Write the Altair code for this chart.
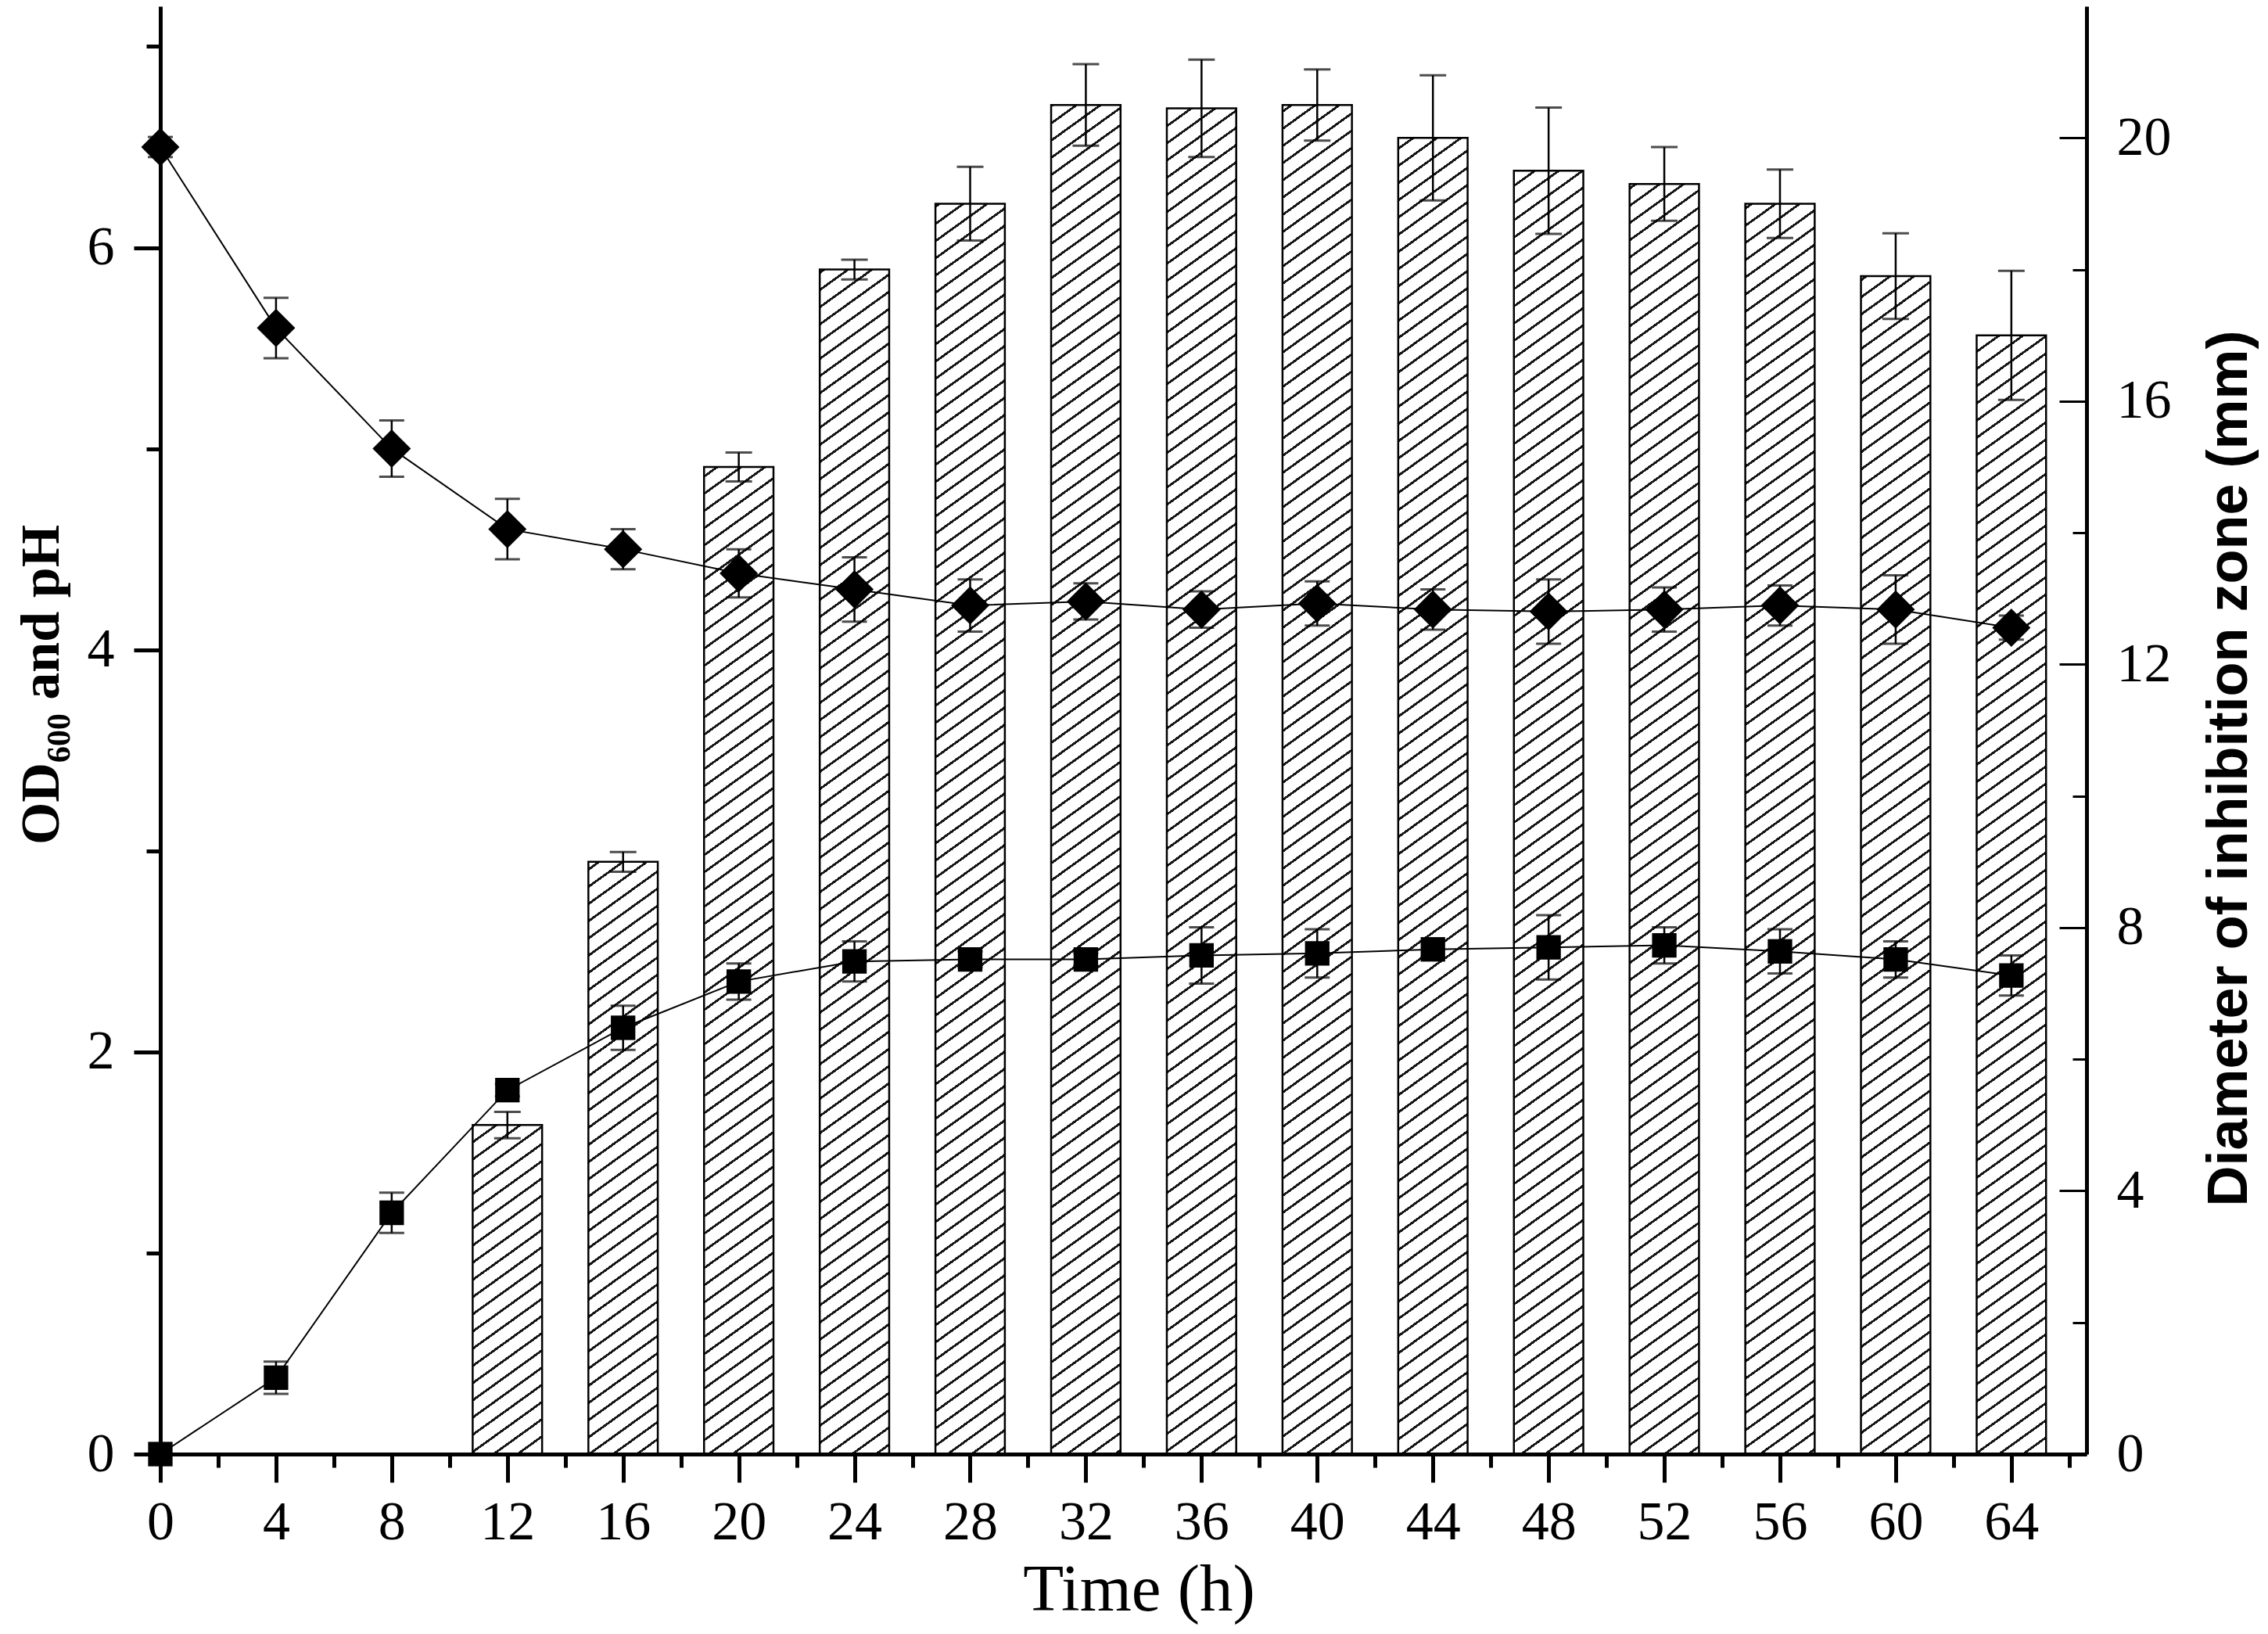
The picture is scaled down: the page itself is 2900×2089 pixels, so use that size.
import altair as alt
import pandas as pd

# ---------------- data ----------------
time_h = [0, 4, 8, 12, 16, 20, 24, 28, 32, 36, 40, 44, 48, 52, 56, 60, 64]
ph = [6.50, 5.60, 5.00, 4.60, 4.50, 4.38, 4.30, 4.22, 4.24, 4.20, 4.23, 4.20, 4.19, 4.20, 4.22, 4.20, 4.11]
ph_err = [0.05, 0.15, 0.14, 0.15, 0.10, 0.12, 0.16, 0.13, 0.09, 0.09, 0.11, 0.10, 0.16, 0.11, 0.10, 0.17, 0.06]
od = [0.00, 0.38, 1.20, 1.81, 2.12, 2.35, 2.45, 2.46, 2.46, 2.48, 2.49, 2.51, 2.52, 2.53, 2.50, 2.46, 2.38]
od_err = [0.00, 0.08, 0.10, 0.03, 0.11, 0.09, 0.10, 0.04, 0.03, 0.14, 0.12, 0.04, 0.16, 0.09, 0.11, 0.09, 0.10]

bar_time = [12, 16, 20, 24, 28, 32, 36, 40, 44, 48, 52, 56, 60, 64]
zone = [5.0, 9.0, 15.0, 18.0, 19.0, 20.5, 20.45, 20.5, 20.0, 19.5, 19.3, 19.0, 17.9, 17.0]
zone_err = [0.20, 0.15, 0.22, 0.15, 0.56, 0.62, 0.74, 0.54, 0.95, 0.96, 0.56, 0.52, 0.65, 0.98]

x_major = list(range(0, 65, 4))
x_minor = list(range(2, 67, 4))
yl_major = [0, 2, 4, 6]
yl_minor = [1, 3, 5, 7]
yr_major = [0, 4, 8, 12, 16, 20]
yr_minor = [2, 6, 10, 14, 18]

x_title = "Time (h)"
yl_title = "OD\u2086\u2080\u2080 and pH"
yr_title = "Diameter of inhibition zone (mm)"

# ---------------- layout / style ----------------
W, H = 2463, 1851
X_DOM = [0, 66.6]
YL_DOM = [0, 7.2]
YR_DOM = [0, 22]
BAR_HALF = 1.2
SERIF = "Liberation Serif"
SANS = "Liberation Sans"

line_df = pd.DataFrame({"t": time_h, "ph": ph, "ph_err": ph_err, "od": od, "od_err": od_err})
bar_df = pd.DataFrame({"t": bar_time, "z": zone, "z_err": zone_err})

xs = alt.Scale(domain=X_DOM, nice=False, zero=False)
yls = alt.Scale(domain=YL_DOM, nice=False)
yrs = alt.Scale(domain=YR_DOM, nice=False)

AX = dict(domainColor="black", tickColor="black", labelColor="black", titleColor="black",
          grid=False, labelFlush=False, labelOverlap=False, zindex=1)


def hatch(x_left, top, w, h, slope=0.72, period=22.0, thick=3.6, ink="#151515"):
    U = slope * w + h
    den = (slope * w) ** 2 + h ** 2
    x2 = slope * w * U / den
    y2 = h * U / den
    base = slope * x_left + top
    u = ((-base) % period) - period
    stops = [{"offset": 0, "color": "white"}]
    while u < U:
        a, b = max(u, 0.0), min(u + thick, U)
        if b > a:
            oa, ob = round(a / U, 6), round(b / U, 6)
            stops += [{"offset": oa, "color": "white"}, {"offset": oa, "color": ink},
                      {"offset": ob, "color": ink}, {"offset": ob, "color": "white"}]
        u += period
    stops.append({"offset": 1, "color": "white"})
    return {"gradient": "linear", "x1": 0, "y1": 0, "x2": x2, "y2": y2, "stops": stops}


layers = []

# ---- hatched bars (right axis) ----
base_bar = alt.Chart(bar_df).transform_calculate(
    x0=alt.datum.t - BAR_HALF, x1=alt.datum.t + BAR_HALF, zero="0",
    lo=alt.datum.z - alt.datum.z_err, hi=alt.datum.z + alt.datum.z_err)

px_per_h = W / (X_DOM[1] - X_DOM[0])
for i, (t, z) in enumerate(zip(bar_time, zone)):
    w = 2 * BAR_HALF * px_per_h
    h = z * H / YR_DOM[1]
    grad = hatch((t - BAR_HALF) * px_per_h, H - h, w, h)
    if i == 0:
        yaxis = alt.Axis(orient="right", values=yr_major, ticks=False, domainWidth=5,
                         labelPadding=38, labelFont=SERIF, labelFontSize=70,
                         title=yr_title, titleFont=SANS, titleFontWeight="bold", titleFontSize=72,
                         titleAngle=270, titleX=182, titleY=974, titleAlign="center",
                         titleBaseline="middle", **AX)
    else:
        yaxis = None
    layers.append(
        base_bar.transform_filter(alt.datum.t == t).mark_bar(
            fill=grad, stroke="black", strokeWidth=2.5
        ).encode(
            x=alt.X("x0:Q", scale=xs, axis=None), x2="x1:Q",
            y=alt.Y("z:Q", scale=yrs, axis=yaxis), y2="zero:Q")
    )

# bar error bars
layers.append(base_bar.mark_rule(color="black", strokeWidth=2.5).encode(
    x=alt.X("t:Q", scale=xs, axis=None),
    y=alt.Y("lo:Q", scale=yrs, axis=None), y2="hi:Q"))
for f in ["lo", "hi"]:
    layers.append(base_bar.mark_tick(orient="horizontal", size=34, thickness=3, color="black").encode(
        x=alt.X("t:Q", scale=xs, axis=None), y=alt.Y(f + ":Q", scale=yrs, axis=None)))

# ---- right axis inward ticks ----
layers.append(alt.Chart(bar_df).mark_point(opacity=0).encode(
    x=alt.X("t:Q", scale=xs, axis=None),
    y=alt.Y("z:Q", scale=yrs, axis=alt.Axis(orient="right", values=yr_major, offset=-35, tickSize=35,
                                            tickWidth=3, domain=False, labels=False, title=None, **AX))))
layers.append(alt.Chart(bar_df).mark_point(opacity=0).encode(
    x=alt.X("t:Q", scale=xs, axis=None),
    y=alt.Y("z:Q", scale=yrs, axis=alt.Axis(orient="right", values=yr_minor, offset=-18, tickSize=18,
                                            tickWidth=3, domain=False, labels=False, title=None, **AX))))

# ---- lines with error bars (left axis) ----
base_line = alt.Chart(line_df).transform_calculate(
    ph_lo=alt.datum.ph - alt.datum.ph_err, ph_hi=alt.datum.ph + alt.datum.ph_err,
    od_lo=alt.datum.od - alt.datum.od_err, od_hi=alt.datum.od + alt.datum.od_err)

x_major_axis = alt.Axis(orient="bottom", values=x_major, tickSize=36, tickWidth=5, domainWidth=5,
                        labelPadding=17, labelFont=SERIF, labelFontSize=70, format="d",
                        title=x_title, titleFont=SERIF, titleFontSize=85, titleFontWeight="normal",
                        titleX=1251, titleY=199, titleAlign="center", titleBaseline="alphabetic", **AX)
yl_major_axis = alt.Axis(orient="left", values=yl_major, tickSize=34, tickWidth=5, domainWidth=5,
                         labelPadding=25, labelFont=SERIF, labelFontSize=70, format="d",
                         title=yl_title, titleFont=SERIF, titleFontSize=70, titleFontWeight="bold",
                         titleAngle=270, titleX=-131, titleY=867, titleAlign="center",
                         titleBaseline="alphabetic", **AX)

# minor ticks carrier
layers.append(alt.Chart(line_df).mark_point(opacity=0).encode(
    x=alt.X("t:Q", scale=xs, axis=alt.Axis(orient="bottom", values=x_minor, tickSize=17, tickWidth=5,
                                           domain=False, labels=False, title=None, **AX)),
    y=alt.Y("ph:Q", scale=yls, axis=alt.Axis(orient="left", values=yl_minor, tickSize=18, tickWidth=5,
                                             domain=False, labels=False, title=None, **AX))))

for key, shape, size in [("ph", "diamond", 2400), ("od", "square", 980)]:
    layers.append(base_line.mark_line(color="black", strokeWidth=2).encode(
        x=alt.X("t:Q", scale=xs, axis=x_major_axis if key == "od" else None),
        y=alt.Y(key + ":Q", scale=yls, axis=yl_major_axis if key == "od" else None)))
    err = base_line.transform_filter(alt.datum[key + "_err"] > 0)
    layers.append(err.mark_rule(color="black", strokeWidth=2.5).encode(
        x=alt.X("t:Q", scale=xs, axis=None),
        y=alt.Y(key + "_lo:Q", scale=yls, axis=None), y2=key + "_hi:Q"))
    for f in ["_lo", "_hi"]:
        layers.append(err.mark_tick(orient="horizontal", size=32, thickness=3, color="black").encode(
            x=alt.X("t:Q", scale=xs, axis=None), y=alt.Y(key + f + ":Q", scale=yls, axis=None)))
    layers.append(base_line.mark_point(shape=shape, filled=True, size=size, color="black", opacity=1).encode(
        x=alt.X("t:Q", scale=xs, axis=None), y=alt.Y(key + ":Q", scale=yls, axis=None)))

chart = alt.layer(*layers).resolve_scale(y="independent").resolve_axis(
    x="independent", y="independent"
).properties(
    width=W, height=H,
    autosize=alt.AutoSizeParams(type="none"),
    padding={"left": 197, "top": 0, "right": 222, "bottom": 220},
    background="white",
).configure_view(stroke=None)

chart.save("out.html", embed_options={"renderer": "svg", "actions": False})
